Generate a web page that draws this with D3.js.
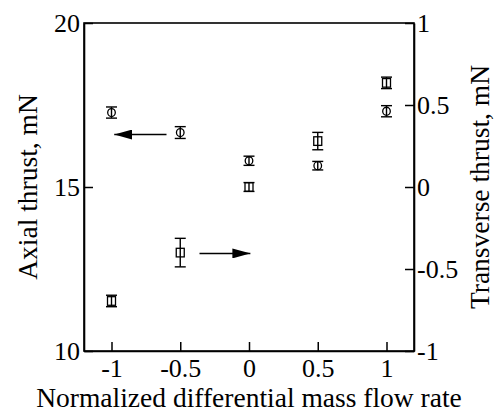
<!DOCTYPE html>
<html><head><meta charset="utf-8">
<script src="https://cdn.jsdelivr.net/npm/d3@7"></script>
<style>body{margin:0;background:#fff;}svg{display:block;}svg text{font-family:'Liberation Serif','Times New Roman','DejaVu Serif',serif;}</style>
</head><body>
<svg id="c" width="496" height="412"></svg>
<script>
const xValues = [-1, -0.5, 0, 0.5, 1];
const axialThrust = [17.27, 16.66, 15.80, 15.65, 17.31];
const axialErr = [0.17, 0.18, 0.14, 0.13, 0.17];
const transverseThrust = [-0.695, -0.40, 0.0, 0.28, 0.635];
const transverseErr = [0.035, 0.087, 0.027, 0.053, 0.035];
const xTicks = [-1, -0.5, 0, 0.5, 1];
const leftTicks = [10, 15, 20];
const rightTicks = [-1, -0.5, 0, 0.5, 1];
// arrows: [x, y] in data units (left arrow on axial axis, right arrow on transverse axis)
const arrowLeft = {from: [-0.6, 16.6], to: [-0.98, 16.6]};
const arrowRight = {from: [-0.36, -0.405], to: [0.01, -0.405]};

const svg = d3.select('#c');
const m = {l: 84, r: 414, t: 23, b: 351};
const x = d3.scaleLinear().domain([-1.2, 1.2]).range([m.l, m.r]);
const yL = d3.scaleLinear().domain([10, 20]).range([m.b, m.t]);
const yR = d3.scaleLinear().domain([-1, 1]).range([m.b, m.t]);
const font = "'Liberation Serif','Times New Roman','DejaVu Serif',serif";

svg.append('defs').append('marker').attr('id','ah').attr('viewBox','0 0 18 10')
  .attr('refX',18).attr('refY',5).attr('markerWidth',18).attr('markerHeight',10)
  .attr('markerUnits','userSpaceOnUse').attr('orient','auto')
  .append('path').attr('d','M0,0 L18,5 L0,10 Z').attr('fill','#000');

// frame
svg.append('rect').attr('x', m.l).attr('y', m.t).attr('width', m.r - m.l).attr('height', m.b - m.t)
  .attr('fill', 'none').attr('stroke', '#000').attr('stroke-width', 1.6);

const fmt = d => String(d);
const gx = svg.append('g').attr('transform', `translate(0,${m.b})`)
  .call(d3.axisBottom(x).tickValues(xTicks).tickFormat(fmt).tickSizeInner(-9).tickSizeOuter(0).tickPadding(8));
const gl = svg.append('g').attr('transform', `translate(${m.l},0)`)
  .call(d3.axisLeft(yL).tickValues(leftTicks).tickFormat(fmt).tickSizeInner(-9).tickSizeOuter(0).tickPadding(4));
const gr = svg.append('g').attr('transform', `translate(${m.r},0)`)
  .call(d3.axisRight(yR).tickValues(rightTicks).tickFormat(fmt).tickSizeInner(-9).tickSizeOuter(0).tickPadding(3));
[gx, gl, gr].forEach(g => {
  g.attr('font-family', font);
  g.select('.domain').attr('stroke', '#000').attr('stroke-width', 1.6);
  g.selectAll('.tick line').attr('stroke', '#000').attr('stroke-width', 1.5);
  g.selectAll('.tick text').attr('fill', '#000').attr('font-family', font).attr('font-size', 26);
});
gx.selectAll('.tick text').attr('dy', '0.71em');

// circles (axial)
const cg = svg.append('g');
xValues.forEach((xv, i) => {
  const cx = x(xv), cy = yL(axialThrust[i]);
  const y1 = yL(axialThrust[i] + axialErr[i]), y2 = yL(axialThrust[i] - axialErr[i]);
  cg.append('line').attr('x1', cx).attr('x2', cx).attr('y1', y1).attr('y2', y2).attr('stroke','#000').attr('stroke-width',1.4);
  [y1, y2].forEach(yy => cg.append('line').attr('x1', cx - 5.5).attr('x2', cx + 5.5).attr('y1', yy).attr('y2', yy).attr('stroke','#000').attr('stroke-width',1.4));
  cg.append('ellipse').attr('cx', cx).attr('cy', cy).attr('rx', 3.8).attr('ry', 4.0).attr('fill','none').attr('stroke','#000').attr('stroke-width',1.3);
});
// squares (transverse)
const sg = svg.append('g');
xValues.forEach((xv, i) => {
  const cx = x(xv), cy = yR(transverseThrust[i]);
  const y1 = yR(transverseThrust[i] + transverseErr[i]), y2 = yR(transverseThrust[i] - transverseErr[i]);
  sg.append('line').attr('x1', cx).attr('x2', cx).attr('y1', y1).attr('y2', y2).attr('stroke','#000').attr('stroke-width',1.4);
  [y1, y2].forEach(yy => sg.append('line').attr('x1', cx - 5.5).attr('x2', cx + 5.5).attr('y1', yy).attr('y2', yy).attr('stroke','#000').attr('stroke-width',1.4));
  sg.append('rect').attr('x', cx - 4).attr('y', cy - 4.3).attr('width', 8).attr('height', 8.6).attr('fill','none').attr('stroke','#000').attr('stroke-width',1.3);
});

// arrows
svg.append('line').attr('x1', x(arrowLeft.from[0])).attr('y1', yL(arrowLeft.from[1]))
  .attr('x2', x(arrowLeft.to[0])).attr('y2', yL(arrowLeft.to[1])).attr('stroke','#000').attr('stroke-width',1.5).attr('marker-end','url(#ah)');
svg.append('line').attr('x1', x(arrowRight.from[0])).attr('y1', yR(arrowRight.from[1]))
  .attr('x2', x(arrowRight.to[0])).attr('y2', yR(arrowRight.to[1])).attr('stroke','#000').attr('stroke-width',1.5).attr('marker-end','url(#ah)');

// titles
svg.append('text').attr('x', (m.l + m.r) / 2).attr('y', 407).attr('text-anchor','middle')
  .attr('font-family', font).attr('font-size', 27.5).text('Normalized differential mass flow rate');
svg.append('text').attr('transform', `translate(37,${(m.t + m.b) / 2}) rotate(-90)`).attr('text-anchor','middle')
  .attr('font-family', font).attr('font-size', 27.5).text('Axial thrust, mN');
svg.append('text').attr('transform', `translate(489,${(m.t + m.b) / 2}) rotate(-90)`).attr('text-anchor','middle')
  .attr('font-family', font).attr('font-size', 27.5).text('Transverse thrust, mN');
</script>
</body></html>
